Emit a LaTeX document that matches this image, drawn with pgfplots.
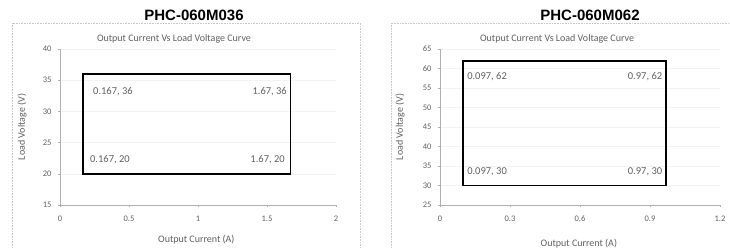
\documentclass[border=0pt]{standalone}
\usepackage{pgfplots}
\pgfplotsset{compat=1.18}
\usepackage{fontspec}
\setmainfont{Carlito}
\newfontfamily\arialfont{Liberation Sans}
\definecolor{txt}{RGB}{95,95,95}
\definecolor{axl}{RGB}{175,175,175}
\tikzset{lab/.style={font=\fontsize{10.5}{11}\selectfont, text=txt, inner sep=0pt}}
\begin{document}
\begin{tikzpicture}
\useasboundingbox (0pt,0pt) rectangle (730pt,248pt);
% chart frames
\draw[axl!70,densely dotted,line width=0.6pt] (12pt,225pt) rectangle (360pt,-2pt);
\draw[axl!70,densely dotted,line width=0.6pt] (391pt,225pt) rectangle (732pt,-2pt);
% titles
\node[font=\arialfont\bfseries\fontsize{15}{17}\selectfont] at (194pt,233pt) {PHC-060M036};
\node[font=\arialfont\bfseries\fontsize{15}{17}\selectfont] at (590pt,233pt) {PHC-060M062};
\pgfplotsset{
  common/.style={
    scale only axis, height=156pt,
    axis lines=left, axis line style={draw=axl,-},
    tick style={draw=axl}, tick align=outside, major tick length=2pt,
    ticklabel style={font=\fontsize{8.5}{9}\selectfont, text=txt},
    yticklabel style={xshift=-3pt},
    xticklabel style={yshift=-5pt},
    /pgf/number format/assume math mode=true,
    ymajorgrids, grid style={gray!10},
    xlabel style={font=\fontsize{10}{11}\selectfont, text=txt, anchor=center},
    ylabel style={font=\fontsize{10}{11}\selectfont, text=txt, anchor=center},
    title style={font=\fontsize{10}{11}\selectfont, text=txt, anchor=center},
    title={Output Current Vs Load Voltage Curve},
    xlabel={Output Current (A)}, ylabel={Load Voltage (V)},
    clip=false,
  },
}
\begin{axis}[common, at={(60pt,43pt)}, anchor=south west, width=276pt,
  xmin=0, xmax=2, ymin=15, ymax=40,
  xtick={0,0.5,1,1.5,2}, ytick={15,20,...,40},
  title style={at={(axis description cs:0.413,1.027)}},
  xlabel style={at={(axis description cs:0.494,-0.224)}},
  ylabel style={at={(axis description cs:-0.137,0.5)}}]
\addplot[black, line width=1.8pt, line join=miter] coordinates {
  (0.167,20) (0.167,36) (1.67,36) (1.67,20) (0.167,20)} -- cycle;
\node[lab, anchor=west] at (axis cs:0.239,33.2) {0.167, 36};
\node[lab, anchor=east] at (axis cs:1.645,33.2) {1.67, 36};
\node[lab, anchor=west] at (axis cs:0.217,22.3) {0.167, 20};
\node[lab, anchor=east] at (axis cs:1.63,22.3) {1.67, 20};
\end{axis}
\begin{axis}[common, at={(440pt,43pt)}, anchor=south west, width=280pt,
  xmin=0, xmax=1.2, ymin=25, ymax=65,
  xtick={0,0.3,0.6,0.9,1.2}, ytick={25,30,...,65},
  title style={at={(axis description cs:0.418,1.027)}},
  xlabel style={at={(axis description cs:0.496,-0.25)}},
  ylabel style={at={(axis description cs:-0.143,0.5)}}]
\addplot[black, line width=1.8pt, line join=miter] coordinates {
  (0.097,30) (0.097,62) (0.97,62) (0.97,30) (0.097,30)} -- cycle;
\node[lab, anchor=west] at (axis cs:0.116,57.8) {0.097, 62};
\node[lab, anchor=east] at (axis cs:0.953,57.8) {0.97, 62};
\node[lab, anchor=west] at (axis cs:0.116,33.5) {0.097, 30};
\node[lab, anchor=east] at (axis cs:0.953,33.5) {0.97, 30};
\end{axis}
\end{tikzpicture}
\end{document}
